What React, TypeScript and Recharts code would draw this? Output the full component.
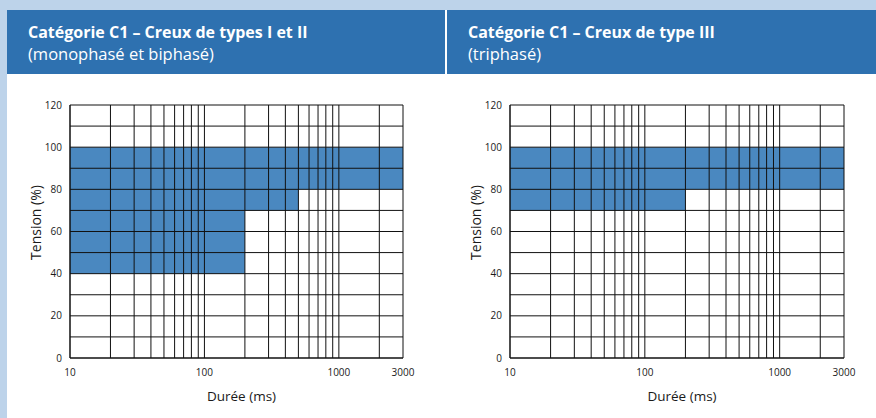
import { ComposedChart, XAxis, YAxis, Area, ReferenceLine } from 'recharts'

const durTicks = [10, 100, 1000, 3000]
const durGrid = [10, 20, 30, 40, 50, 60, 70, 80, 90, 100, 200, 300, 400, 500, 600, 700, 800, 900, 1000, 2000, 3000]
const tensionTicks = [0, 20, 40, 60, 80, 100, 120]
const tensionGrid = [0, 10, 20, 30, 40, 50, 60, 70, 80, 90, 100, 110, 120]

// limite basse de la zone (%) à partir de chaque durée (ms), jusqu'à 100 %
const dureesTypesIetII = [10, 200, 500, 3000]
const seuilsTypesIetII = [40, 70, 80, 80]
const dureesTypeIII = [10, 200, 3000]
const seuilsTypeIII = [70, 80, 80]
const tensionHaute = 100

const FONT = '"Open Sans", "Noto Sans", sans-serif'
const HEADER_BLUE = '#2e71b0'
const ZONE_BLUE = '#4a88c0'
const GRID = '#111'

interface PanelProps {
  left: number
  width: number
  title: string
  subtitle: string
  durees: number[]
  seuils: number[]
  marginRight: number
}

function YTitle(props: any) {
  const vb = props.viewBox
  const cx = vb.x + 28
  const cy = vb.y + vb.height / 2 - 9
  return (
    <text x={cx} y={cy} transform={`rotate(-90 ${cx} ${cy})`} textAnchor="middle" dominantBaseline="central" fontSize={14} fill="#1a1a1a" fontFamily={FONT}>
      Tension (%)
    </text>
  )
}

function XTitle(props: any) {
  const vb = props.viewBox
  const cx = vb.x + vb.width / 2 + 5
  return (
    <text x={cx} y={vb.y + 43} textAnchor="middle" fontSize={13.5} fill="#1a1a1a" fontFamily={FONT}>
      Durée (ms)
    </text>
  )
}

function Panel({ left, width, title, subtitle, durees, seuils, marginRight }: PanelProps) {
  const data = durees.map((x, i) => ({ x, zone: [seuils[i], tensionHaute] }))
  return (
    <div style={{ position: 'absolute', left, top: 10, width, height: 408 }}>
      <div
        style={{
          height: 64,
          background: HEADER_BLUE,
          color: '#fff',
          fontFamily: FONT,
          fontSize: 16,
          lineHeight: '21px',
          padding: '12px 0 0 21px',
          boxSizing: 'border-box',
        }}
      >
        <div style={{ fontWeight: 700 }}>{title}</div>
        <div style={{ fontSize: 16.5 }}>{subtitle}</div>
      </div>
      <ComposedChart width={width} height={344} data={data} margin={{ top: 31, right: marginRight, left: 0, bottom: 10 }}>
        <XAxis
          type="number"
          dataKey="x"
          scale="log"
          domain={[10, 3000]}
          allowDataOverflow
          ticks={durTicks}
          tickLine={false}
          axisLine={false}
          height={50}
          tick={{ fontSize: 10, fill: '#1a1a1a', fontFamily: FONT, dy: 3 }}
          label={<XTitle />}
        />
        <YAxis
          type="number"
          domain={[0, 120]}
          ticks={tensionTicks}
          tickLine={false}
          axisLine={false}
          width={63}
          tick={{ fontSize: 10, fill: '#1a1a1a', fontFamily: FONT }}
          label={<YTitle />}
        />
        <Area
          type="stepAfter"
          dataKey="zone"
          stroke="none"
          fill={ZONE_BLUE}
          fillOpacity={1}
          dot={false}
          activeDot={false}
          isAnimationActive={false}
        />
        {tensionGrid.map((v) => (
          <ReferenceLine key={'h' + v} y={v} stroke={GRID} strokeWidth={v === 0 ? 1.5 : 1} />
        ))}
        {durGrid.map((v) => (
          <ReferenceLine key={'v' + v} x={v} stroke={GRID} strokeWidth={v === 10 ? 1.5 : 1} />
        ))}
      </ComposedChart>
    </div>
  )
}

export default function App() {
  return (
    <div style={{ position: 'absolute', left: 0, top: 0, width: 876, height: 418, background: '#bdd3ea', overflow: 'hidden' }}>
      <div style={{ position: 'absolute', left: 7, top: 10, width: 869, height: 408, background: '#fff' }} />
      <Panel
        left={7}
        width={438}
        title="Catégorie C1 – Creux de types I et II"
        subtitle="(monophasé et biphasé)"
        durees={dureesTypesIetII}
        seuils={seuilsTypesIetII}
        marginRight={42}
      />
      <Panel
        left={447}
        width={429}
        title="Catégorie C1 – Creux de type III"
        subtitle="(triphasé)"
        durees={dureesTypeIII}
        seuils={seuilsTypeIII}
        marginRight={32}
      />
    </div>
  )
}
